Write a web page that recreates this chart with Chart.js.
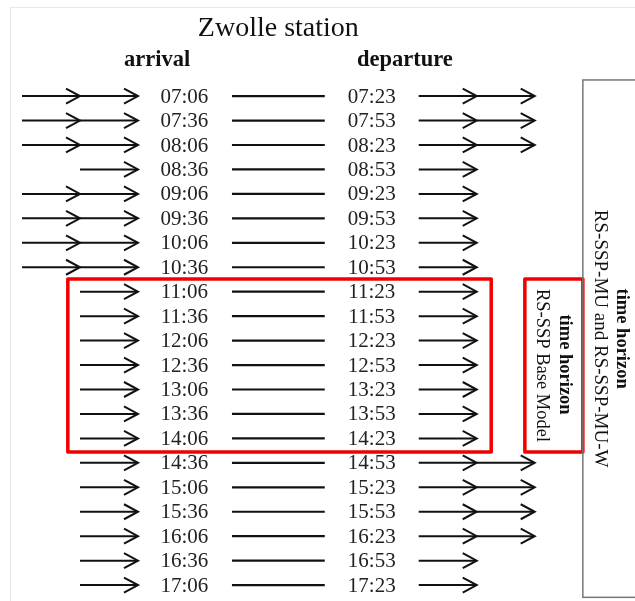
<!DOCTYPE html>
<html>
<head>
<meta charset="utf-8">
<script src="https://cdn.jsdelivr.net/npm/chart.js@4.4.0/dist/chart.umd.min.js"></script>
<style>
  html, body { margin: 0; padding: 0; background: #fff; }
  #wrap { width: 635px; height: 601px; }
</style>
</head>
<body>
<div id="wrap"><canvas id="myChart"></canvas></div>
<script>
// timetable data
const arrivals = ['07:06','07:36','08:06','08:36','09:06','09:36','10:06','10:36','11:06','11:36','12:06',
  '12:36','13:06','13:36','14:06','14:36','15:06','15:36','16:06','16:36','17:06'];
const departures = ['07:23','07:53','08:23','08:53','09:23','09:53','10:23','10:53','11:23','11:53','12:23',
  '12:53','13:23','13:53','14:23','14:53','15:23','15:53','16:23','16:53','17:23'];
// number of chained arrows before arrival / after departure
const inboundArrows = [2,2,2,1,2,2,2,2,1,1,1,1,1,1,1,1,1,1,1,1,1];
const outboundArrows = [2,2,2,1,1,1,1,1,1,1,1,1,1,1,1,2,2,2,2,1,1];
// time horizons
const baseHorizon = ['11:06','14:06'];
const fullHorizon = ['07:06','17:06'];

// column layout (x units)
const COL = {
  inEnd: 2, inStep: 1, arrival: 2.8,
  linkFrom: 3.62, linkTo: 5.22, departure: 6.03,
  outStart: 6.84, outStep: 1, title: 4.42, arrHead: 2.33, depHead: 6.6
};

const ctx = document.getElementById('myChart');

// link lines between arrival and departure, as a scatter line dataset
const linkData = [];
arrivals.forEach((a, i) => {
  linkData.push({ x: COL.linkFrom, y: i }, { x: COL.linkTo, y: i }, { x: COL.linkTo, y: null });
});

function arrow(c, x0, x1, y) {
  c.beginPath();
  c.moveTo(x0, y);
  c.lineTo(x1 - 1, y);
  c.stroke();
  c.beginPath();
  c.moveTo(x1 - 14, y - 7.5);
  c.lineTo(x1, y);
  c.lineTo(x1 - 14, y + 7.5);
  c.stroke();
}

function vText(c, text, x, y, font) {
  c.save();
  c.translate(x, y);
  c.rotate(Math.PI / 2);
  c.font = font;
  c.textAlign = 'center';
  c.textBaseline = 'middle';
  c.fillText(text, 0, 0);
  c.restore();
}

const diagramPlugin = {
  id: 'diagram',
  afterDatasetsDraw(chart) {
    const c = chart.ctx;
    const xs = chart.scales.x, ys = chart.scales.y;
    const px = v => xs.getPixelForValue(v);
    const py = v => ys.getPixelForValue(v);
    c.save();

    // faint page frame
    c.strokeStyle = '#e6e6e6';
    c.lineWidth = 1;
    c.strokeRect(px(-0.21) + 0.5, py(-3.65) + 0.5, 700, 700);

    // headings
    c.fillStyle = '#111';
    c.textAlign = 'center';
    c.textBaseline = 'middle';
    c.font = '28px "Liberation Serif", serif';
    c.fillText('Zwolle station', px(COL.title), py(-2.74));
    c.font = 'bold 22.5px "Liberation Serif", serif';
    c.fillText('arrival', px(COL.arrHead), py(-1.47));
    c.fillText('departure', px(COL.depHead), py(-1.47));

    // rows
    c.strokeStyle = '#111';
    c.lineWidth = 2;
    c.lineCap = 'butt';
    c.lineJoin = 'miter';
    c.font = '21px "Liberation Serif", serif';
    arrivals.forEach((a, i) => {
      const y = py(i);
      const nIn = inboundArrows[i];
      for (let k = 0; k < nIn; k++) {
        const to = COL.inEnd - k * COL.inStep;
        arrow(c, px(to - COL.inStep), px(to), y);
      }
      const nOut = outboundArrows[i];
      for (let k = 0; k < nOut; k++) {
        const from = COL.outStart + k * COL.outStep;
        arrow(c, px(from), px(from + COL.outStep), y);
      }
      c.fillStyle = '#222';
      c.fillText(a, px(COL.arrival), y + 1);
      c.fillText(departures[i], px(COL.departure), y + 1);
    });

    // base model horizon boxes
    const b0 = arrivals.indexOf(baseHorizon[0]);
    const b1 = arrivals.indexOf(baseHorizon[1]);
    const top = py(b0 - 0.52), bot = py(b1 + 0.56);
    c.strokeStyle = '#f00000';
    c.lineWidth = 3.5;
    c.lineJoin = 'round';
    c.strokeRect(px(0.79), top, px(8.09) - px(0.79), bot - top);
    c.strokeRect(px(8.67), top, px(9.67) - px(8.67), bot - top);
    c.fillStyle = '#111';
    const midB = (top + bot) / 2;
    vText(c, 'time horizon', px(9.36), midB - 1, 'bold 18.5px "Liberation Serif", serif');
    vText(c, 'RS-SSP Base Model', px(8.96), midB, '18.5px "Liberation Serif", serif');

    // full horizon box
    const f0 = arrivals.indexOf(fullHorizon[0]);
    const f1 = arrivals.indexOf(fullHorizon[1]);
    const gTop = py(f0 - 0.66), gBot = py(f1 + 0.5);
    c.strokeStyle = '#777';
    c.lineWidth = 1.5;
    c.lineJoin = 'miter';
    c.strokeRect(px(9.67), gTop, px(11.2) - px(9.67), gBot - gTop);
    const midF = (gTop + gBot) / 2;
    vText(c, 'time horizon', px(10.34), midF, 'bold 18.5px "Liberation Serif", serif');
    vText(c, 'RS-SSP-MU and RS-SSP-MU-W', px(9.97), midF, '19px "Liberation Serif", serif');

    c.restore();
  }
};

new Chart(ctx, {
  type: 'scatter',
  data: {
    datasets: [{
      label: 'link',
      data: linkData,
      showLine: true,
      spanGaps: false,
      borderColor: '#111',
      borderWidth: 2.2,
      pointRadius: 0,
      pointHoverRadius: 0
    }]
  },
  options: {
    responsive: true,
    maintainAspectRatio: false,
    animation: false,
    layout: { padding: 0 },
    plugins: {
      legend: { display: false },
      tooltip: { enabled: false },
      title: { display: false }
    },
    scales: {
      x: { type: 'linear', display: false, min: -0.3793, max: 10.569 },
      y: { type: 'linear', display: false, reverse: true, min: -3.93, max: 20.65 }
    }
  },
  plugins: [diagramPlugin]
});
</script>
</body>
</html>
